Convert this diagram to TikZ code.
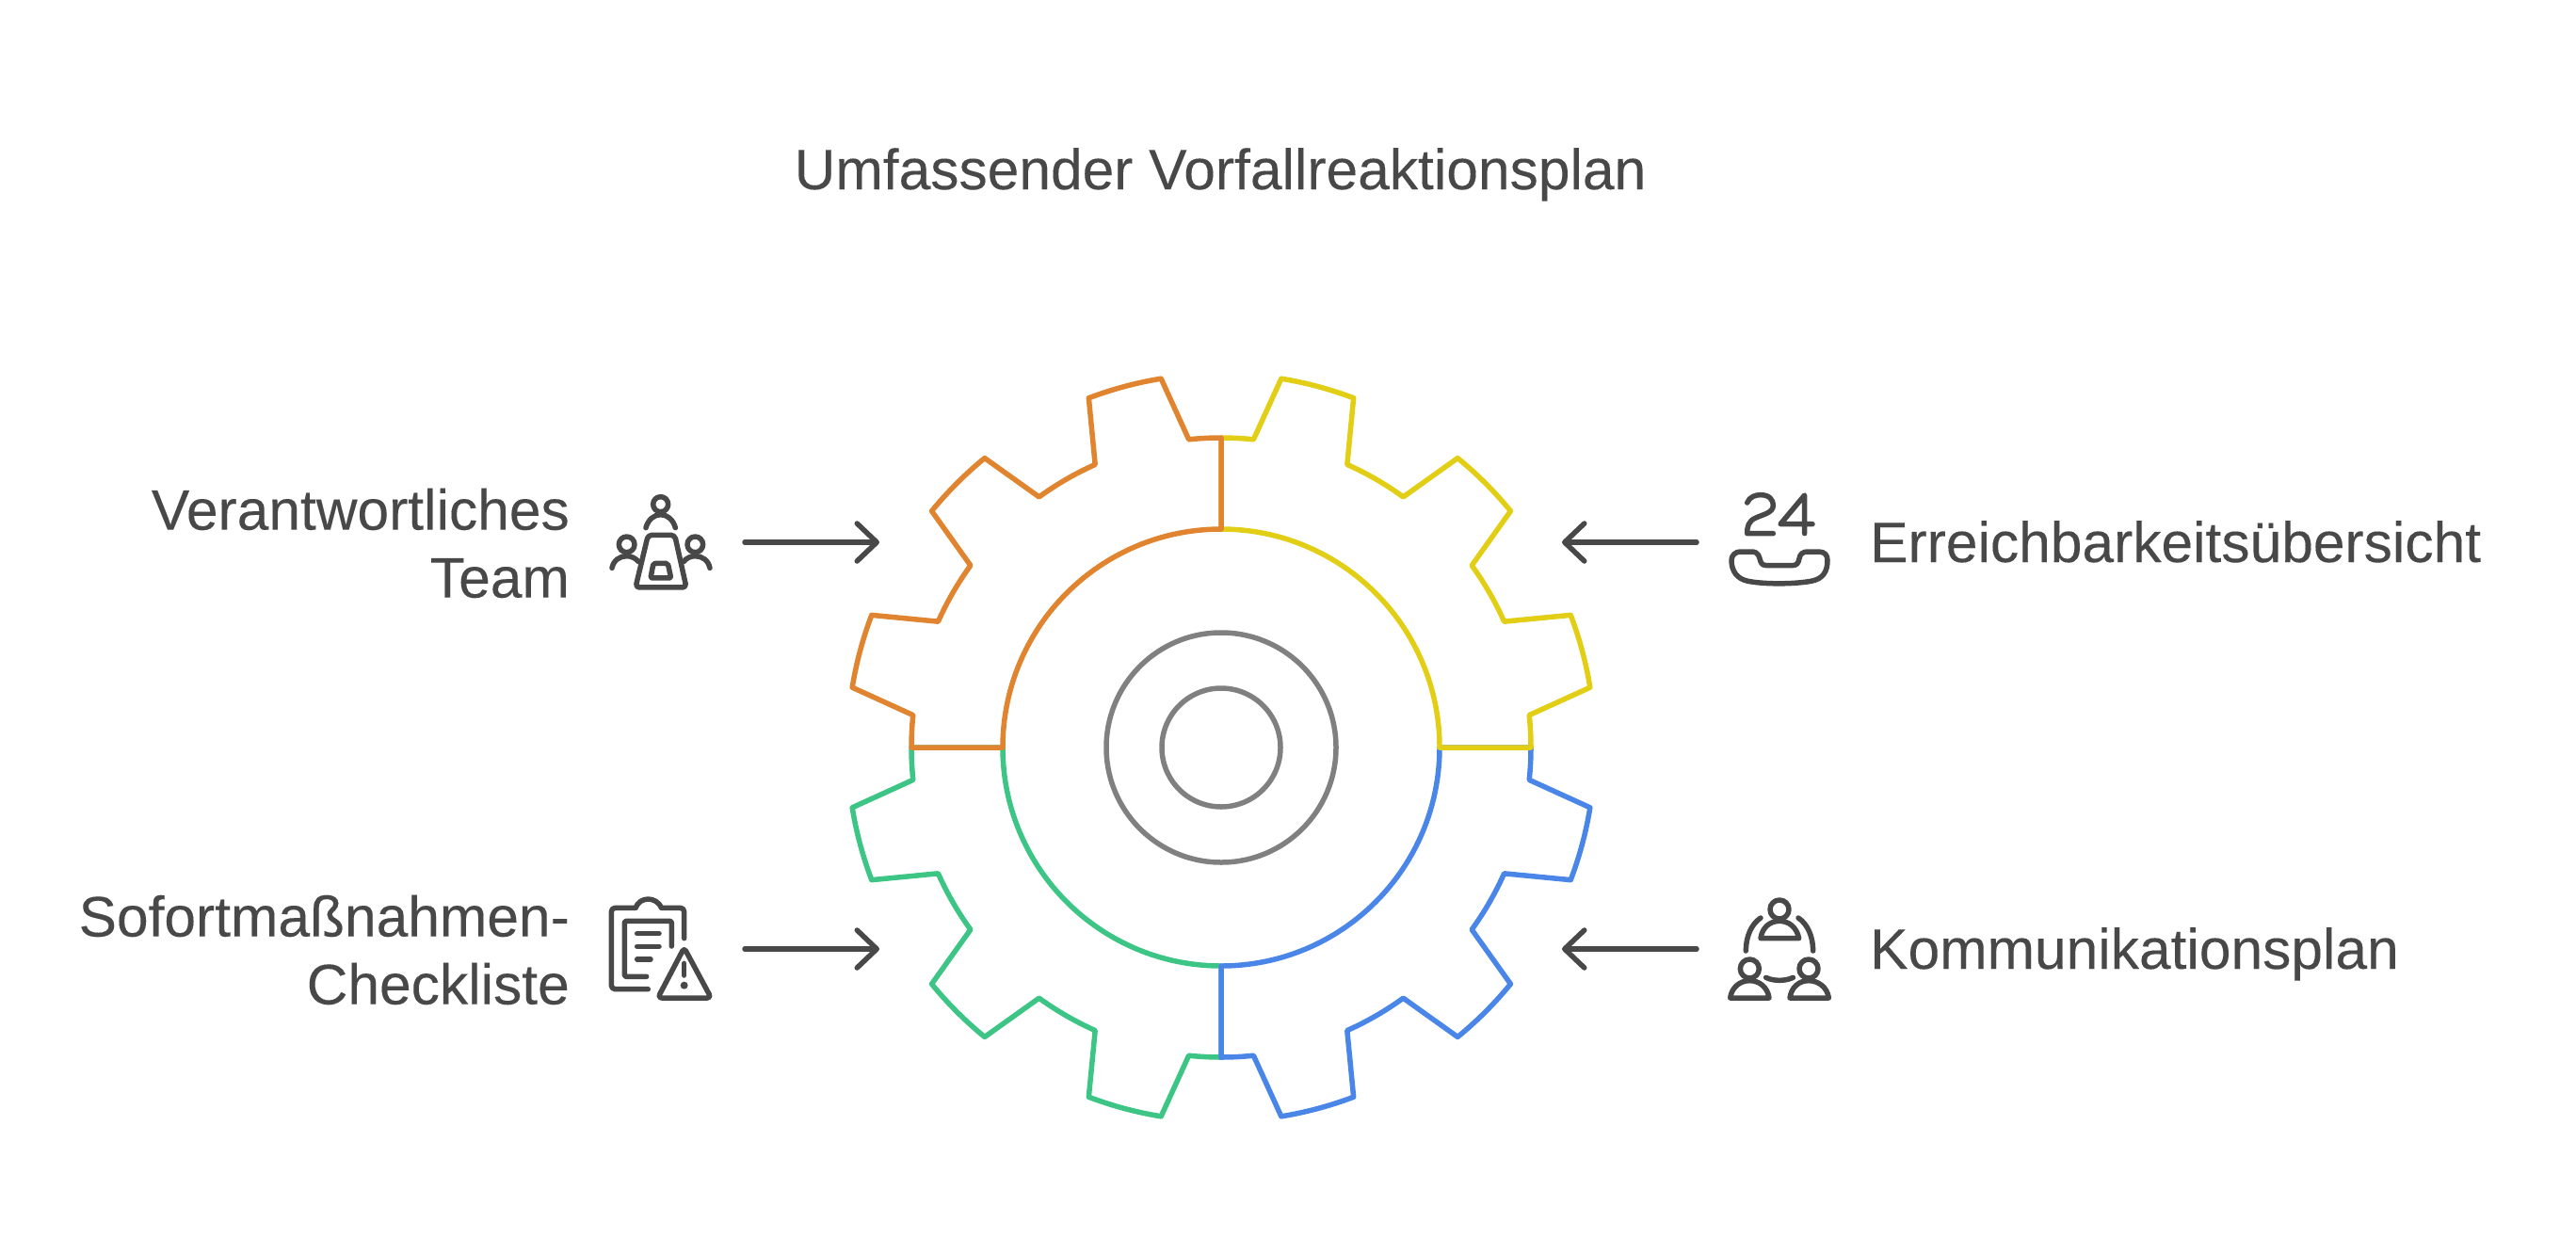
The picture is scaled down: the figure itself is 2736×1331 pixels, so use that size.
\documentclass[tikz,border=0pt]{standalone}
\usepackage{fontspec}
\setmainfont[FakeBold=0.15]{Liberation Sans}
\usetikzlibrary{arrows.meta}
\definecolor{cOrange}{HTML}{E0842F}
\definecolor{cYellow}{HTML}{E2CE14}
\definecolor{cBlue}{HTML}{4A86E8}
\definecolor{cGreen}{HTML}{3CC585}
\definecolor{cGray}{HTML}{808080}
\definecolor{cInk}{HTML}{484848}
\tikzset{
  gearline/.style={line width=5.5pt,line join=round},
  hubline/.style={line width=5.5pt,draw=cGray},
  label/.style={text=cInk,font=\fontsize{60.5}{72}\selectfont,inner sep=0pt},
  flow/.style={draw=cInk,line width=5.5pt,line cap=round,line join=round,-{Straight Barb[length=21pt,width=40pt,round]}},
  icon/.style={draw=cInk,line width=5.5pt,line cap=round,line join=round},
  iconfill/.style={fill=cInk,draw=none}
}
\newcommand{\gearquad}[2]{%
  \draw[gearline,draw=#1,rotate=#2]
    (0:232) -- (0:329) arc[start angle=0,delta angle=6,radius=329]
    -- (9.25:397) arc[start angle=9.25,delta angle=11.5,radius=397]
    -- (24:329) arc[start angle=24,delta angle=12,radius=329]
    -- (39.25:397) arc[start angle=39.25,delta angle=11.5,radius=397]
    -- (54:329) arc[start angle=54,delta angle=12,radius=329]
    -- (69.25:397) arc[start angle=69.25,delta angle=11.5,radius=397]
    -- (84:329) arc[start angle=84,delta angle=6,radius=329]
    -- (90:232) arc[start angle=90,delta angle=-90,radius=232] -- cycle;
}
\begin{document}
\begin{tikzpicture}[x=1pt,y=-1pt]
\useasboundingbox (0,0) rectangle (2736,1331);
\node[label,anchor=base] (title) at (1296,201) {Umfassender Vorfallreaktionsplan};
\node[label,align=right,anchor=east] (team) at (605,577) {Verantwortliches\\Team};
\node[label,align=right,anchor=east] (sofort) at (605,1009) {Sofortmaßnahmen-\\Checkliste};
\node[label,anchor=base west] (erreich) at (1986,597) {Erreichbarkeitsübersicht};
\node[label,anchor=base west] (komm) at (1986,1029) {Kommunikationsplan};
% gear
\begin{scope}[shift={(1297,794)},x=1pt,y=1pt]
\gearquad{cGreen}{180}
\gearquad{cBlue}{-90}
\gearquad{cYellow}{0}
\gearquad{cOrange}{90}
\draw[hubline] (0,0) circle[radius=122];
\draw[hubline] (0,0) circle[radius=63];
\end{scope}
% connectors
\coordinate (a1s) at (791,576); \coordinate (a1e) at (934,576);
\coordinate (a2s) at (791,1008); \coordinate (a2e) at (934,1008);
\coordinate (a3s) at (1802,576); \coordinate (a3e) at (1659,576);
\coordinate (a4s) at (1802,1008); \coordinate (a4e) at (1659,1008);
\draw[flow] (a1s) -- (a1e);
\draw[flow] (a2s) -- (a2e);
\draw[flow] (a3s) -- (a3e);
\draw[flow] (a4s) -- (a4e);
% team icon
\begin{scope}[shift={(620,500)},x=0.3333pt,y=-0.3333pt]
\draw[icon] (245,107) ellipse[x radius=24,y radius=24];
\draw[icon] (198,182) .. controls (205,155) and (225,140) .. (245,140) .. controls (265,140) and (285,155) .. (292,182);
\draw[icon] (137,235) ellipse[x radius=25,y radius=25];
\draw[icon] (355,235) ellipse[x radius=25,y radius=25];
\draw[icon] (90,310) .. controls (95,285) and (115,272) .. (137,272) .. controls (150,272) and (165,278) .. (175,290);
\draw[icon] (402,310) .. controls (397,285) and (377,272) .. (355,272) .. controls (342,272) and (327,278) .. (318,290);
\draw[icon,rounded corners=4pt] (205,205) -- (290,205) -- (327,372) -- (165,372) -- cycle;
\draw[icon,rounded corners=2pt] (222,295) -- (268,295) -- (278,342) -- (213,342) -- cycle;
\end{scope}
% checklist icon
\begin{scope}[shift={(620,930)},x=0.3333pt,y=-0.3333pt]
\draw[icon,rounded corners=4pt] (320,200) -- (320,103) -- (248,103);
\draw[icon] (248,103) .. controls (240,85) and (222,75) .. (205,75) .. controls (188,75) and (172,85) .. (165,103);
\draw[icon,rounded corners=4pt] (165,103) -- (88,103) -- (88,362) -- (205,362);
\draw[icon,rounded corners=2pt] (280,225) -- (280,145) -- (130,145) -- (130,322) -- (200,322);
\draw[icon] (170,185) -- (240,185);
\draw[icon] (170,226) -- (240,226);
\draw[icon] (170,267) -- (213,267);
\draw[icon,rounded corners=4pt] (320,230) -- (406,390) -- (236,390) -- cycle;
\draw[icon] (320,280) -- (320,318);
\fill[iconfill] (320,350) ellipse[x radius=12,y radius=12];
\end{scope}
% 24h icon
\begin{scope}[shift={(1815,500)},x=0.3333pt,y=-0.3333pt]
\draw[icon] (122,102) .. controls (130,82) and (150,77) .. (165,77) .. controls (195,77) and (205,95) .. (205,110) .. controls (205,135) and (170,140) .. (150,150) .. controls (125,160) and (122,180) .. (122,200) -- (205,200);
\draw[icon] (305,200) -- (305,78) -- (228,170) -- (330,170);
\draw[icon] (100,258) -- (135,258) .. controls (160,258) and (160,275) .. (165,290) .. controls (170,300) and (175,302) .. (185,302) -- (265,302) .. controls (280,302) and (285,295) .. (288,280) .. controls (290,265) and (300,258) .. (315,258) -- (350,258) .. controls (370,258) and (378,270) .. (378,285) .. controls (378,320) and (365,345) .. (325,352) .. controls (270,362) and (175,362) .. (125,352) .. controls (90,345) and (72,320) .. (72,285) .. controls (72,270) and (85,258) .. (100,258) -- cycle;
\end{scope}
% communication icon
\begin{scope}[shift={(1815,930)},x=0.3333pt,y=-0.3333pt]
\draw[icon] (225,108) ellipse[x radius=30,y radius=30];
\draw[icon] (165,200) .. controls (170,165) and (195,145) .. (225,145) .. controls (255,145) and (280,165) .. (287,200) -- cycle;
\draw[icon] (130,297) ellipse[x radius=30,y radius=30];
\draw[icon] (68,390) .. controls (73,355) and (100,335) .. (130,335) .. controls (160,335) and (187,355) .. (192,390) -- cycle;
\draw[icon] (318,297) ellipse[x radius=30,y radius=30];
\draw[icon] (258,390) .. controls (263,355) and (288,335) .. (318,335) .. controls (348,335) and (377,355) .. (382,390) -- cycle;
\draw[icon] (118,240) .. controls (118,195) and (135,155) .. (165,135);
\draw[icon] (332,240) .. controls (332,195) and (315,155) .. (285,135);
\draw[icon] (182,325) .. controls (205,337) and (245,337) .. (268,325);
\end{scope}
\end{tikzpicture}
\end{document}
